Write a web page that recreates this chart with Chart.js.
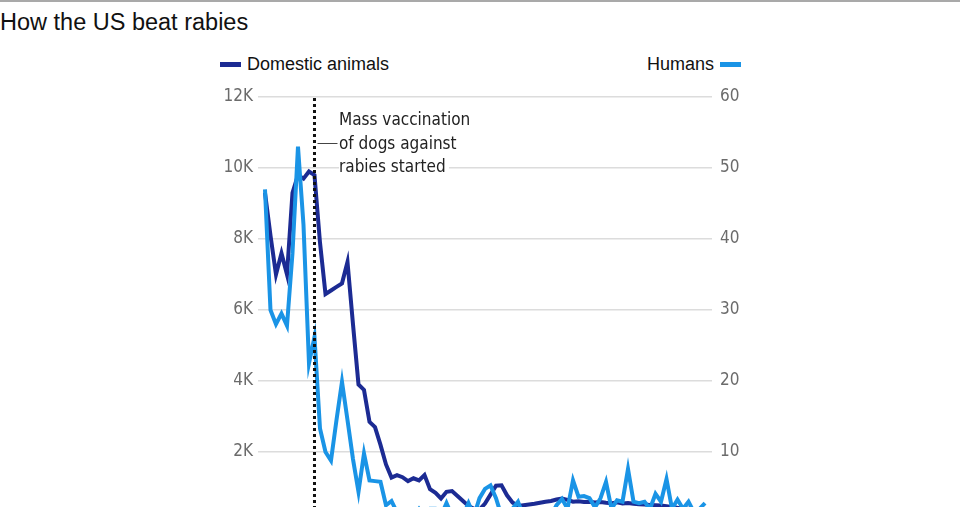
<!DOCTYPE html>
<html lang="en">
<head>
  <meta charset="UTF-8" />
  <title>How the US beat rabies</title>
  <style>
    body {
      margin: 0;
      width: 960px;
      height: 507px;
      overflow: hidden;
      background: #fff;
      position: relative;
      font-family: "Liberation Sans", Arial, sans-serif;
      color: #111;
    }
    .topline {
      position: absolute;
      left: 0; top: 0;
      width: 960px; height: 2px;
      background: #a9a9a9;
    }
    h1 {
      position: absolute;
      left: 0; top: 9px;
      margin: 0;
      font-size: 23.5px;
      font-weight: normal;
    }
    .legend-item {
      position: absolute;
      top: 53px;
      font-size: 18px;
      line-height: 22px;
      display: flex;
      align-items: center;
      gap: 6px;
    }
    .swatch { display: inline-block; width: 21px; height: 5px; }
    .note {
      position: absolute;
      left: 339px; top: 108px;
      font-family: "Liberation Sans Narrow", "DejaVu Sans Condensed", "Roboto Condensed", Roboto, sans-serif;
      font-size: 17px;
      line-height: 23.5px;
      color: #222;
      z-index: 2;
    }
    .note span {
      display: block;
      width: fit-content;
      background: #fff;
      padding-right: 3px;
    }
    .chart-box {
      position: absolute;
      left: 0; top: 0;
      width: 960px; height: 545px;
    }
  </style>
</head>
<body>
  <div class="topline"></div>
  <h1>How the US beat rabies</h1>

  <!-- legend -->
  <div class="legend-item" style="left:220px;">
    <span class="swatch" style="background:#1c2b93"></span><span>Domestic animals</span>
  </div>
  <div class="legend-item" style="left:647px;">
    <span>Humans</span><span class="swatch" style="background:#1a94e6"></span>
  </div>

  <div class="note"><span>Mass vaccination</span><span>of dogs against</span><span>rabies started</span></div>

  <div class="chart-box"><canvas id="chart"></canvas></div>

  <script src="https://cdn.jsdelivr.net/npm/chart.js@4/dist/chart.umd.min.js"></script>
  <script>
    // --------------------------
    // data
    // --------------------------
    const years = [];
    for (let y = 1938; y <= 2018; y++) years.push(y);

    // reported rabies cases, domestic animals (left axis)
    const domestic = [
      9300, 8100, 7000, 7600, 7000, 9300, 9800, 9700, 9900, 9800,
      7900, 6450, 6550, 6650, 6750, 7350, 5600, 3900, 3750, 2850,
      2700, 2200, 1650, 1280, 1350, 1290, 1180, 1260, 1200, 1350,
      950, 850, 690, 880, 900, 760, 620, 480, 400, 380,
      550, 800, 1050, 1060, 780, 580, 480, 500, 520, 540,
      570, 600, 620, 660, 690, 650, 600, 610, 590, 600,
      580, 590, 570, 560, 580, 550, 560, 540, 530, 520,
      510, 500, 490, 470, 450, 430, 420, 400, 390, 380,
      370
    ];

    // reported rabies cases, humans (right axis)
    const humans = [
      47, 30, 28, 29.5, 27.8, 38, 53, 42, 22.5, 26.2,
      13.3, 10, 8.8, 14.5, 19.9, 14.5, 9, 4.4, 9.8, 6,
      5.9, 5.8, 2.5, 3.1, 1.5, 1, 1.5, 1, 2, 1,
      2, 2, 1, 2.8, 1, 1, 1, 2.8, 1, 3.5,
      4.8, 5.3, 3.5, 1, 1, 2, 3, 1, 0, 1,
      1, 0, 1, 2.5, 3.4, 2, 6, 3.7, 3.8, 3.5,
      2.2, 3.5, 5.8, 2, 3.2, 3, 7.6, 3, 2.8, 3,
      2, 4.1, 3, 6.2, 2, 3.3, 2, 3, 1.5, 2,
      2.8
    ];

    const leftTicks = [0, 2000, 4000, 6000, 8000, 10000, 12000];
    const rightTicks = [0, 10, 20, 30, 40, 50, 60];
    const vaccinationYear = 1947;

    const darkBlue = '#1c2b93';
    const lightBlue = '#1a94e6';
    const tickFont = { family: '"Liberation Sans Narrow", "DejaVu Sans Condensed", "Roboto Condensed", Roboto, sans-serif', size: 17 };

    // dotted line for the start of dog vaccination + leader line to the note
    const markerLine = {
      id: 'markerLine',
      afterDatasetsDraw(chart) {
        const ctx = chart.ctx;
        const x = chart.scales.x.getPixelForValue(vaccinationYear);
        ctx.save();
        ctx.strokeStyle = '#111';
        ctx.lineWidth = 3;
        ctx.setLineDash([3, 3]);
        ctx.beginPath();
        ctx.moveTo(x, 98);
        ctx.lineTo(x, chart.chartArea.bottom);
        ctx.stroke();
        ctx.setLineDash([]);
        ctx.lineWidth = 1;
        ctx.strokeStyle = '#444';
        ctx.beginPath();
        ctx.moveTo(x + 3, 143.5);
        ctx.lineTo(x + 23, 143.5);
        ctx.stroke();
        ctx.restore();
      }
    };

    new Chart(document.getElementById('chart'), {
      type: 'line',
      data: {
        datasets: [
          {
            label: 'Humans',
            data: years.map((y, i) => ({ x: y, y: humans[i] })),
            yAxisID: 'y1',
            borderColor: lightBlue,
            borderWidth: 4,
            pointRadius: 0,
            order: 0
          },
          {
            label: 'Domestic animals',
            data: years.map((y, i) => ({ x: y, y: domestic[i] })),
            yAxisID: 'y',
            borderColor: darkBlue,
            borderWidth: 4,
            pointRadius: 0,
            order: 1
          }
        ]
      },
      options: {
        responsive: true,
        maintainAspectRatio: false,
        animation: false,
        layout: { padding: { top: 97, bottom: 22, left: 0, right: 0 } },
        plugins: { legend: { display: false }, tooltip: { enabled: false } },
        scales: {
          x: {
            type: 'linear',
            min: 1936.73,
            max: 2019.27,
            display: false
          },
          y: {
            position: 'left',
            min: 0,
            max: 12000,
            afterFit: s => { s.width = 258; },
            afterBuildTicks: s => { s.ticks = leftTicks.map(v => ({ value: v })); },
            ticks: {
              padding: 5,
              color: '#6b6b6b',
              font: tickFont,
              callback: v => v === 0 ? '0' : (v / 1000) + 'K'
            },
            grid: { color: '#dcdcdc', lineWidth: 1.5, drawTicks: false },
            border: { display: false }
          },
          y1: {
            position: 'right',
            min: 0,
            max: 60,
            afterFit: s => { s.width = 248; },
            afterBuildTicks: s => { s.ticks = rightTicks.map(v => ({ value: v })); },
            ticks: { padding: 8, color: '#6b6b6b', font: tickFont },
            grid: { display: false, drawTicks: false },
            border: { display: false }
          }
        }
      },
      plugins: [markerLine]
    });
  </script>
</body>
</html>
